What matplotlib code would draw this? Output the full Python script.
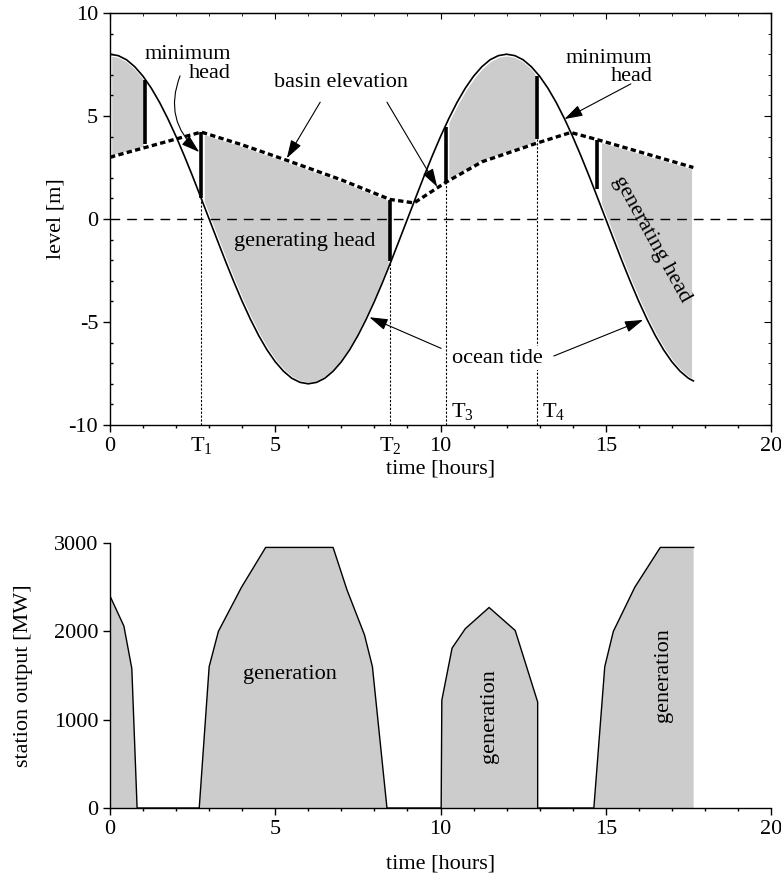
import numpy as np
import matplotlib
matplotlib.use("Agg")
import matplotlib.pyplot as plt
from matplotlib.ticker import MultipleLocator

plt.rcParams['font.family'] = ['Liberation Serif', 'DejaVu Serif']
plt.rcParams['font.size'] = 16
plt.rcParams['mathtext.fontset'] = 'custom'
plt.rcParams['mathtext.rm'] = 'Liberation Serif'
plt.rcParams['mathtext.it'] = 'Liberation Serif:italic'
plt.rcParams['axes.unicode_minus'] = False

################################################################################################
# values

# ocean tide, sampled every quarter hour
TIDE_T = [i * 0.25 for i in range(71)] + [17.65]
TIDE_LEVEL = [8.00, 7.93, 7.73, 7.39, 6.93, 6.35, 5.66, 4.87, 4.00, 3.06, 2.07, 1.04,
              0.00, -1.04, -2.07, -3.06, -4.00, -4.87, -5.66, -6.35, -6.93, -7.39, -7.73, -7.93,
              -8.00, -7.93, -7.73, -7.39, -6.93, -6.35, -5.66, -4.87, -4.00, -3.06, -2.07, -1.04,
              0.00, 1.04, 2.07, 3.06, 4.00, 4.87, 5.66, 6.35, 6.93, 7.39, 7.73, 7.93,
              8.00, 7.93, 7.73, 7.39, 6.93, 6.35, 5.66, 4.87, 4.00, 3.06, 2.07, 1.04,
              0.00, -1.04, -2.07, -3.06, -4.00, -4.87, -5.66, -6.35, -6.93, -7.39, -7.73,
              -7.86]

# basin elevation
BASIN_T = [0.0, 2.76, 4.0, 5.4, 7.0, 8.47, 9.2, 10.16, 11.26, 12.91, 13.94, 14.75, 17.65]
BASIN_LEVEL = [3.0, 4.22, 3.6, 2.82, 1.9, 0.95, 0.78, 1.78, 2.78, 3.68, 4.2, 3.85, 2.5]

# thick "minimum head" bars
HEAD_T = [1.06, 2.76, 8.47, 10.16, 12.91, 14.73]
HEAD_TOP = [6.75, 4.2, 0.9, 4.45, 6.95, 3.85]
HEAD_BOT = [3.62, 1.0, -2.05, 1.78, 3.88, 1.45]

# generating periods (gray areas in the upper plot)
GEN_START = [0.0, 2.8, 10.2, 14.82]
GEN_END = [1.06, 8.47, 12.91, 17.65]

# marked times
T_MARK = [2.76, 8.47, 10.16, 12.91]
T_MARK_TOP = [1.0, -2.05, 1.78, 3.88]

X_TICKS = [0, T_MARK[0], 5, T_MARK[1], 10, 15, 20]
X_TICK_LABELS = ['0', 'T$_1$', '5', 'T$_2$', '10', '15', '20']

# station output
OUT_T = [0, 0.42, 0.66, 0.82, 2.70, 3.00, 3.28, 3.98, 4.71, 6.75, 7.17, 7.70, 7.94, 8.38,
         10.02, 10.04, 10.35, 10.75, 11.47, 12.26, 12.94, 12.94, 14.64, 14.97, 15.23, 15.88,
         16.65, 17.66]
OUT_MW = [2400, 2060, 1580, 0, 0, 1600, 2000, 2500, 2950, 2950, 2470, 1960, 1600, 0,
          0, 1220, 1810, 2030, 2270, 2010, 1200, 0, 0, 1600, 2000, 2500,
          2950, 2950]

GRAY = '#cccccc'

################################################################################################

W, H = 781, 882
fig = plt.figure(figsize=(W / 100, H / 100), dpi=100)
ax = fig.add_axes([110 / W, 1 - 425 / H, 661 / W, 412 / H])
ax2 = fig.add_axes([110 / W, 1 - 808 / H, 661 / W, 265 / H])

# ---- upper plot: levels
for a, b in zip(GEN_START, GEN_END):
    t = np.linspace(a, b, 200)
    ax.fill_between(t, np.interp(t, TIDE_T, TIDE_LEVEL), np.interp(t, BASIN_T, BASIN_LEVEL),
                    facecolor=GRAY, edgecolor='white', linewidth=2.5, zorder=1)

ax.axhline(0, color='black', lw=1, dashes=(7, 5), zorder=2)
ax.vlines(T_MARK, -10, T_MARK_TOP, colors='black', lw=0.8, linestyles=(0, (2, 1.5)), zorder=2)
ax.plot(TIDE_T, TIDE_LEVEL, color='black', lw=1.2, zorder=3)
ax.plot(BASIN_T, BASIN_LEVEL, color='black', lw=2.4, dashes=(1.6, 1.0), zorder=3)
ax.vlines(HEAD_T, HEAD_BOT, HEAD_TOP, colors='black', lw=2.6, zorder=4)

ax.set_xlim(0, 20)
ax.set_ylim(-10, 10)
ax.set_xticks(X_TICKS)
ax.set_xticklabels(X_TICK_LABELS)
for tick, lab in zip(ax.xaxis.get_major_ticks(), X_TICK_LABELS):
    if lab.startswith('T'):
        tick.tick1line.set_visible(False)
for lab in ax.get_xticklabels():
    lab.set_va('baseline')
ax.xaxis.set_minor_locator(MultipleLocator(1))
ax.set_yticks([-10, -5, 0, 5, 10])
ax.yaxis.set_minor_locator(MultipleLocator(1))
ax.tick_params(axis='x', which='major', direction='out', length=5, width=1, top=False, pad=14)
ax.tick_params(axis='x', which='minor', direction='out', length=2.5, width=1, top=False)
ax.tick_params(axis='y', which='major', direction='out', length=5, width=1, right=False)
ax.tick_params(axis='y', which='minor', direction='in', length=2.5, width=1, right=False)

top = ax.secondary_xaxis('top')
top.set_xticks([0, 5, 10, 15, 20])
top.xaxis.set_minor_locator(MultipleLocator(1))
top.tick_params(which='major', direction='in', length=4, labeltop=False)
top.tick_params(which='minor', direction='in', length=2.5)
right = ax.secondary_yaxis('right')
right.set_yticks([-10, -5, 0, 5, 10])
right.yaxis.set_minor_locator(MultipleLocator(1))
right.tick_params(which='major', direction='in', length=5, labelright=False)
right.tick_params(which='minor', direction='in', length=2.5)

ax.set_xlabel('time [hours]', labelpad=2)
ax.set_ylabel('level [m]', labelpad=2.5)

arrow = dict(arrowstyle='-|>,head_length=0.7,head_width=0.22', color='black', lw=0.8,
             shrinkA=0, shrinkB=0, mutation_scale=16)

ax.text(3.66, 8.0, 'minimum', ha='right', va='center')
ax.text(3.66, 7.08, 'head', ha='right', va='center')
ax.annotate('', xy=(2.7, 3.25), xytext=(2.12, 6.95),
            arrowprops=dict(arrow, connectionstyle='arc3,rad=0.35'))

ax.text(16.41, 7.8, 'minimum', ha='right', va='center')
ax.text(16.41, 6.9, 'head', ha='right', va='center')
ax.annotate('', xy=(13.75, 4.85), xytext=(15.76, 6.56), arrowprops=arrow)

ax.text(7.0, 6.65, 'basin elevation', ha='center', va='center')
ax.annotate('', xy=(5.35, 2.95), xytext=(6.36, 5.67), arrowprops=arrow)
ax.annotate('', xy=(9.9, 1.56), xytext=(8.38, 5.67), arrowprops=arrow)

ax.text(5.9, -1.1, 'generating head', ha='center', va='center', zorder=5)
ax.text(16.4, -1.0, 'generating head', ha='center', va='center', rotation=-61,
        rotation_mode='anchor', zorder=5)

ax.text(11.73, -6.76, 'ocean tide', ha='center', va='center', zorder=5,
        bbox=dict(facecolor='white', edgecolor='none', pad=2))
ax.annotate('', xy=(7.85, -4.77), xytext=(10.02, -6.28), arrowprops=arrow)
ax.annotate('', xy=(16.13, -4.9), xytext=(13.43, -6.65), arrowprops=arrow)

ax.text(T_MARK[2] + 0.17, -9.35, 'T$_3$', ha='left', va='center')
ax.text(T_MARK[3] + 0.17, -9.35, 'T$_4$', ha='left', va='center')

# ---- lower plot: station output
ax2.fill_between(OUT_T, 0, OUT_MW, facecolor=GRAY, edgecolor='none', zorder=1)
ax2.plot(OUT_T, OUT_MW, color='black', lw=1, zorder=2)
ax2.set_xlim(0, 20)
ax2.set_ylim(0, 3000)
ax2.set_xticks([0, 5, 10, 15, 20])
ax2.xaxis.set_minor_locator(MultipleLocator(1))
ax2.set_yticks([0, 1000, 2000, 3000])
ax2.spines['top'].set_visible(False)
ax2.spines['right'].set_visible(False)
ax2.tick_params(axis='both', which='major', direction='out', length=5, width=1)
ax2.tick_params(axis='x', which='minor', direction='out', length=2.5, width=1)
ax2.set_xlabel('time [hours]', labelpad=11.5)
ax2.set_ylabel('station output [MW]', labelpad=15)

ax2.text(5.43, 1515, 'generation', ha='center', va='center')
ax2.text(11.47, 1040, 'generation', ha='center', va='center', rotation=90)
ax2.text(16.75, 1500, 'generation', ha='center', va='center', rotation=90)

for a in (ax, ax2):
    for s in a.spines.values():
        s.set_linewidth(1)

fig.savefig('out.png', dpi=100)
